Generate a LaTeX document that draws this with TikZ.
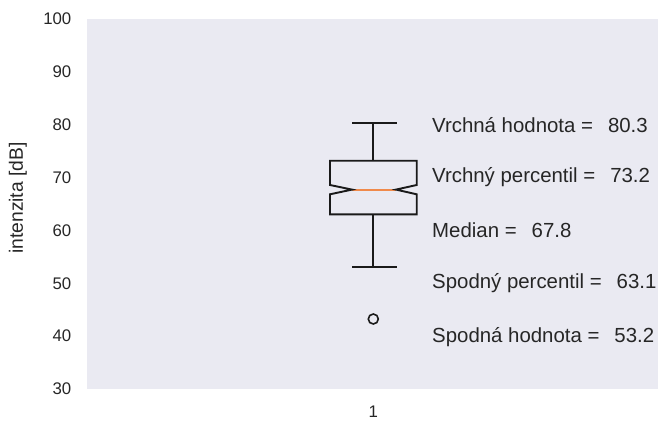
\documentclass[tikz,border=0pt]{standalone}
\usepackage{fontspec}
\setmainfont{Liberation Sans}
\definecolor{plotbg}{HTML}{EAEAF2}
\definecolor{txt}{HTML}{262626}
\definecolor{boxline}{HTML}{1A1A1A}
\definecolor{medorange}{HTML}{F08A4B}
\begin{document}
\begin{tikzpicture}[x=1pt,y=-1pt,
  ticklab/.style={anchor=east,inner sep=0pt,text=txt,font=\fontsize{16.8}{18}\selectfont},
  annot/.style={anchor=west,inner sep=0pt,text=txt,font=\fontsize{20.4}{22}\selectfont},
  axlab/.style={inner sep=0pt,text=txt,font=\fontsize{19.3}{21}\selectfont,rotate=90},
  boxstroke/.style={draw=boxline,line width=1.9pt,line join=miter},
  medline/.style={draw=medorange,line width=1.8pt}]
\useasboundingbox (0,0) rectangle (660,420);
% plot area
\fill[plotbg] (87,19) rectangle (658,389);
% value -> y : 389 - (v-30)*5.2857
\node[ticklab] (t100) at (71.5,19) {100};
\node[ticklab] (t90) at (71.5,71.9) {90};
\node[ticklab] (t80) at (71.5,124.7) {80};
\node[ticklab] (t70) at (71.5,177.6) {70};
\node[ticklab] (t60) at (71.5,230.4) {60};
\node[ticklab] (t50) at (71.5,283.3) {50};
\node[ticklab] (t40) at (71.5,336.1) {40};
\node[ticklab] (t30) at (71.5,389) {30};
\node[axlab] (ylab) at (18,198) {intenzita [dB]};
\node[inner sep=0pt,text=txt,font=\fontsize{16.8}{18}\selectfont] (x1) at (373.3,412) {1};
% box plot coordinates
\coordinate (capTopL) at (352,123.3);
\coordinate (capTopR) at (396.5,123.3);
\coordinate (whTop) at (373.3,123.3);
\coordinate (boxTopMid) at (373.3,160.7);
\coordinate (boxBotMid) at (373.3,214.3);
\coordinate (whBot) at (373.3,266.8);
\coordinate (capBotL) at (352,266.8);
\coordinate (capBotR) at (396.5,266.8);
\coordinate (medL) at (352,189.6);
\coordinate (medR) at (396,189.6);
% whiskers and caps
\draw[boxstroke] (whTop) -- (boxTopMid);
\draw[boxstroke] (boxBotMid) -- (whBot);
\draw[boxstroke] (capTopL) -- (capTopR);
\draw[boxstroke] (capBotL) -- (capBotR);
% median
\draw[medline] (medL) -- (medR);
% notched box
\draw[boxstroke] (330,160.7) -- (416.7,160.7) -- (416.7,185) -- (medR) -- (416.7,194.3)
  -- (416.7,214.3) -- (330,214.3) -- (330,194.3) -- (medL) -- (330,185) -- cycle;
% outlier
\node[circle,draw=boxline,line width=1.6pt,minimum size=10pt,inner sep=0pt] (outl) at (373.3,319) {};
% annotations
\node[annot] (a1) at (432,125) {Vrchná hodnota =\hspace{15pt}80.3};
\node[annot] (a2) at (432,177.5) {Vrchný percentil =\hspace{15pt}73.2};
\node[annot] (a3) at (432,230) {Median =\hspace{15pt}67.8};
\node[annot] (a4) at (432,283) {Spodný percentil =\hspace{15pt}63.1};
\node[annot] (a5) at (432,337) {Spodná hodnota =\hspace{15pt}53.2};
\end{tikzpicture}
\end{document}
